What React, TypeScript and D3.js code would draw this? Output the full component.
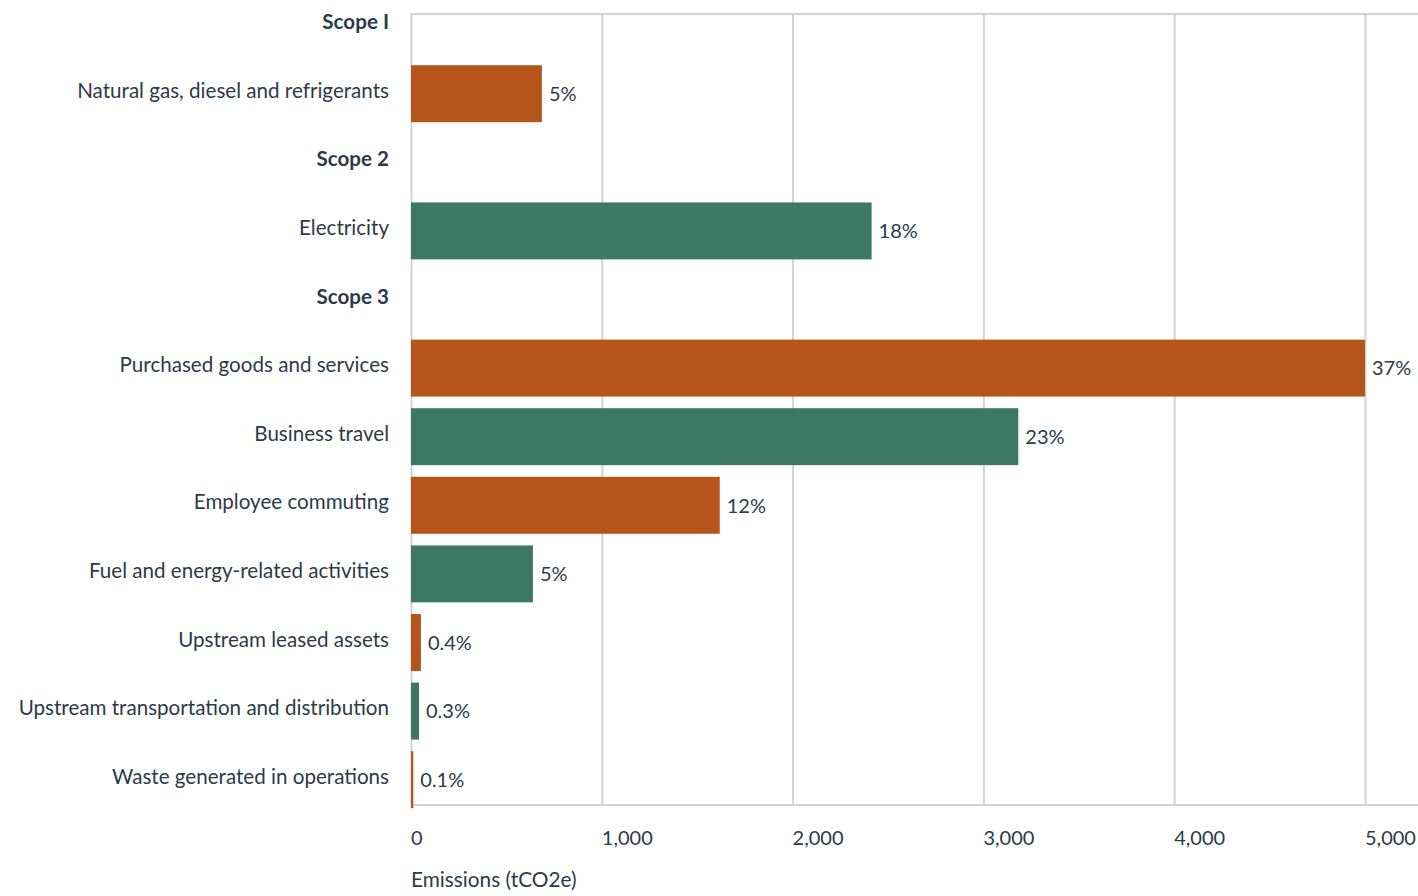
import React from "react";
import * as d3 from "d3";

const categories = [
  "Scope 1",
  "Natural gas, diesel and refrigerants",
  "Scope 2",
  "Electricity",
  "Scope 3",
  "Purchased goods and services",
  "Business travel",
  "Employee commuting",
  "Fuel and energy-related activities",
  "Upstream leased assets",
  "Upstream transportation and distribution",
  "Waste generated in operations",
];
const headerRows = ["Scope 1", "Scope 2", "Scope 3"];
const values: (number | null)[] = [null, 686, null, 2414, null, 5000, 3183, 1618, 639, 52, 42, 12];
const percentLabels: (string | null)[] = [null, "5%", null, "18%", null, "37%", "23%", "12%", "5%", "0.4%", "0.3%", "0.1%"];
const barColors: (string | null)[] = [null, "orange", null, "green", null, "orange", "green", "orange", "green", "orange", "green", "orange"];
const xTicks = [0, 1000, 2000, 3000, 4000, 5000];
const axisTitle = "Emissions (tCO2e)";

const COLORS: Record<string, string> = { orange: "#B5551B", green: "#3D7864" };
const TEXT = "#2E3A46";
const GRID = "#D2D2D6";

export default function App() {
  const W = 1418;
  const H = 896;
  const left = 411.5;
  const top = 14;
  const bottom = 805;
  const x = d3.scaleLinear().domain([0, 5000]).range([left, 1365.5]);
  const y = d3
    .scaleBand<string>()
    .domain(categories)
    .range([25.1 - 34.3, 25.1 - 34.3 + 68.6 * categories.length])
    .paddingInner(0.17)
    .paddingOuter(0.085);
  const center = (c: string) => (y(c) as number) + y.bandwidth() / 2;
  const font = "Lato, 'Noto Sans', sans-serif";
  const fmt = d3.format(",");

  return (
    <svg width={W} height={H} style={{ position: "absolute", left: 0, top: 0 }} fontFamily={font}>
      <rect x={0} y={0} width={W} height={H} fill="#fff" />
      {/* grid */}
      {xTicks.map((t) => (
        <line key={t} x1={x(t)} x2={x(t)} y1={top} y2={bottom} stroke={GRID} strokeWidth={2} />
      ))}
      <line x1={left - 1} x2={W} y1={top} y2={top} stroke={GRID} strokeWidth={2} />
      <line x1={left - 1} x2={W} y1={bottom} y2={bottom} stroke={GRID} strokeWidth={2} />
      {/* bars */}
      {categories.map((c, i) => {
        const v = values[i];
        if (v == null) return null;
        const yc = y(c) as number;
        return (
          <g key={c}>
            <rect
              x={x(0) - 0.5}
              y={yc}
              width={Math.max(x(v) - x(0), 2)}
              height={y.bandwidth()}
              fill={COLORS[barColors[i] as string]}
            />
            <text x={x(v) + 6.5} y={center(c) + 7.2} fontSize={20} fill={TEXT}>
              {percentLabels[i]}
            </text>
          </g>
        );
      })}
      {/* category labels */}
      {categories.map((c) => (
        <text
          key={c}
          x={389}
          y={center(c) + 4}
          textAnchor="end"
          fontSize={20.6}
          fontWeight={headerRows.includes(c) ? 700 : 400}
          fill={TEXT}
        >
          {c === "Scope 1" ? "Scope I" : c}
        </text>
      ))}
      {/* x tick labels */}
      {xTicks.map((t) => (
        <text key={t} x={x(t) - 0.5} y={845} fontSize={20} fill={TEXT}>
          {fmt(t)}
        </text>
      ))}
      <text x={left - 0.5} y={887} fontSize={20.8} fill={TEXT}>
        {axisTitle}
      </text>
    </svg>
  );
}
